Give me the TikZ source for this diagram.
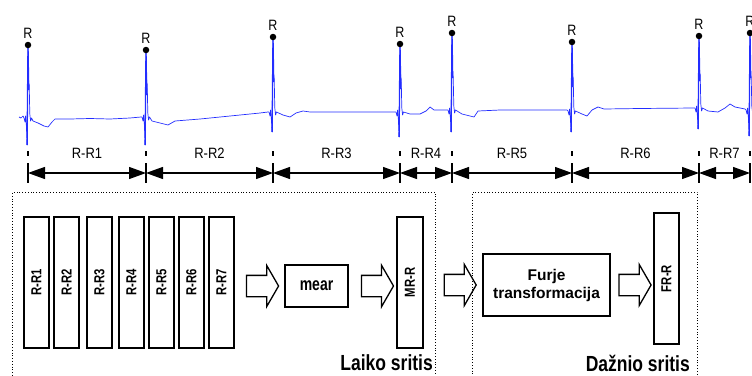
\documentclass[tikz,border=0pt]{standalone}
\usepackage{graphicx}
\usepackage{fontspec}
\setmainfont{Liberation Sans}
\usepackage{tikz}
\usetikzlibrary{shapes.arrows, positioning, arrows.meta, calc}
\definecolor{ecgblue}{RGB}{35,45,255}

% one heart beat, appended to the running trace: x, peak, baseline, Q depth
\newcommand{\qrs}[4]{%
  -- ({#1-4},{#3}) -- ({#1-3},{#3+4}) -- ({#1-2.4},{#3-2}) -- ({#1-1.6},{#3+8})
  -- ({#1-0.9},{#4}) -- ({#1-0.5},{#3-20}) -- (#1,#2) -- ({#1+0.7},{#3-35})
  -- ({#1+1.2},{#3-33}) -- ({#1+1.8},{#3-4}) -- ({#1+2.6},{#3+3}) -- ({#1+3.5},{#3})}
\newcommand{\tallbox}[2]{\scalebox{1}[#1]{#2}}
\newcommand{\bartext}[1]{\rotatebox{90}{\scalebox{0.78}[1]{#1}}}

\begin{document}
\begin{tikzpicture}[x=1pt, y=-1pt,
  ecg/.style={draw=ecgblue, line width=0.7pt, line join=round},
  spike/.style={draw=ecgblue, line width=1.3pt},
  rdot/.style={circle, fill=black, inner sep=0pt, minimum size=6.5pt},
  rlabel/.style={inner sep=0pt, font=\fontsize{12.5}{14}\selectfont},
  rrlabel/.style={inner sep=0pt, font=\fontsize{13}{15}\selectfont},
  interval/.style={{Triangle[length=17pt,width=12pt]}-{Triangle[length=17pt,width=12pt]}, line width=1.2pt},
  tick/.style={line width=1.2pt},
  bar/.style={rectangle, draw, line width=1.3pt, minimum width=25pt,
    minimum height=131pt, inner sep=0pt, font=\bfseries\fontsize{14.5}{16}\selectfont},
  stepbox/.style={rectangle, draw, line width=1.3pt, inner sep=0pt, align=center,
    font=\bfseries\fontsize{14}{16}\selectfont},
  regionbox/.style={rectangle, draw, dotted, line width=0.8pt, anchor=north west, inner sep=0pt},
  regionlabel/.style={anchor=base east, inner sep=0pt, font=\bfseries\fontsize{17.5}{20}\selectfont},
  bigarrow/.style={single arrow, draw, line width=1.3pt, inner sep=0pt,
    text height=20pt, text depth=0pt, single arrow head extend=10pt,
    single arrow tip angle=120, minimum height=32pt}
]
  \useasboundingbox (0,0) rectangle (752,375);

  % ECG trace
  \draw[ecg] (19,117) -- (21,118) -- (23,116)
    \qrs{28}{45}{118}{145}
    -- (33,121) -- (38,123) -- (44,126) -- (48,127) -- (52,122) -- (55,119)
    -- (70,119) -- (90,118.5) -- (110,119) -- (130,118) -- (141,117)
    \qrs{146}{50}{117}{145}
    -- (152,121) -- (160,123) -- (168,125) -- (175,121) -- (200,119)
    -- (230,116) -- (260,113) -- (268,112)
    \qrs{273}{37}{112}{132}
    -- (283,115) -- (290,117) -- (296,113) -- (303,111) -- (310,112)
    -- (340,112) -- (370,112) -- (395,112)
    \qrs{400}{44}{112}{137}
    -- (410,114) -- (420,114) -- (426,111) -- (430,107) -- (434,110) -- (447,110)
    \qrs{452}{33}{110}{132}
    -- (462,114) -- (470,116) -- (474,117) -- (478,111) -- (500,110)
    -- (540,110) -- (567,110)
    \qrs{572}{42}{111}{132}
    -- (582,114) -- (587,116) -- (592,110) -- (598,107) -- (604,109)
    -- (640,108.5) -- (694,108)
    \qrs{699}{36}{108}{129}
    -- (708,111) -- (718,112) -- (725,108) -- (730,104) -- (735,107) -- (745,109)
    \qrs{750}{33}{110}{136};

  % R peaks and interval ticks
  \foreach \i/\x/\y/\d in {1/28/45/145, 2/146/50/145, 3/273/37/132, 4/400/44/137,
                           5/452/33/132, 6/572/42/132, 7/699/36/129, 8/750/33/136} {
    \draw[spike] (\x-0.9,\d) -- (\x,\y) -- (\x+0.7,\y+45);
    \node[rdot] (pk\i) at (\x,\y) {};
    \node[rlabel, above=3pt of pk\i] (rl\i) {\tallbox{1.2}{R}};
    \coordinate (t\i) at (\x,173);
    \draw[tick] ([yshift=10pt]t\i) -- ([yshift=-10pt]t\i);
    \draw[tick] ([yshift=22pt]t\i) -- ([yshift=17pt]t\i);
  }
  \foreach \i [evaluate=\i as \j using int(\i+1)] in {1,...,7}
    \draw[interval] (t\i) -- node[rrlabel, midway, yshift=20pt] (iv\i) {\tallbox{1.15}{R-R\i}} (t\j);

  % time and frequency regions
  \node[regionbox, minimum width=423pt, minimum height=195pt] (time) at (12,192) {};
  \node[regionbox, minimum width=225pt, minimum height=195pt] (freq) at (472,192) {};
  \node[regionlabel] (timelab) at (433,370) {\tallbox{1.25}{Laiko sritis}};
  \node[regionlabel] (freqlab) at (690,371) {\tallbox{1.25}{Dažnio sritis}};

  % interval bars
  \foreach \i/\x in {1/36.5, 2/66.5, 3/99.5, 4/131.5, 5/161.5, 6/191.5, 7/221.5}
    \node[bar] (b\i) at (\x,282.5) {\bartext{R-R\i}};

  \node[stepbox, minimum width=63pt, minimum height=42pt] (mean) at (316.5,286) {\tallbox{1.3}{mear}};
  \node[bar, minimum width=26pt] (mr) at (410,282.5) {\bartext{MR-R}};
  \node[stepbox, minimum width=127pt, minimum height=62pt,
    font=\bfseries\fontsize{15.5}{18}\selectfont] (fft) at (546.5,285) {Furje\\transformacija};
  \node[bar] (fr) at (666.5,278.5) {\bartext{FR-R}};

  % block arrows
  \path (b7.east |- mean.west) -- node[bigarrow, midway] (a1) {} (mean.west);
  \path (mean.east) -- node[bigarrow, pos=0.54] (a2) {} (mean.east -| mr.west);
  \path (mr.east |- fft.west) -- node[bigarrow, pos=0.57] (a3) {} (fft.west);
  \path (fft.east) -- node[bigarrow, midway] (a4) {} (fft.east -| fr.west);
\end{tikzpicture}
\end{document}
